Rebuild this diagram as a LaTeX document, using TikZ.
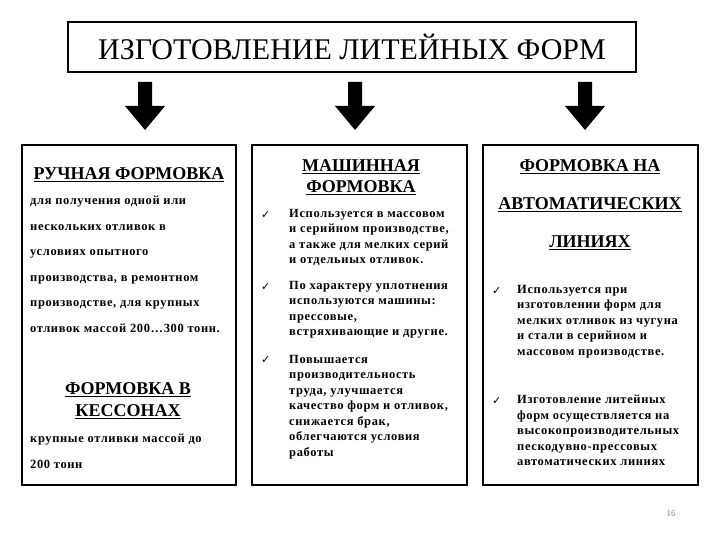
\documentclass[tikz,border=0pt]{standalone}
\usepackage{fontspec}
\setmainfont{Liberation Serif}
\newfontfamily\djv{DejaVu Sans}
\newfontfamily\bodyf[LetterSpace=5,BoldFont={Liberation Serif Bold}]{Liberation Serif}
\begin{document}
\begin{tikzpicture}[x=1pt,y=-1pt,
  box/.style={draw,line width=1.6pt},
  hd/.style={font=\bfseries\fontsize{18}{21}\selectfont,align=center},
  bd/.style={font=\bodyf\bfseries\fontsize{12.5}{15.5}\selectfont,align=left,anchor=north west,inner sep=0pt},
  ck/.style={font=\djv\fontsize{11}{11}\selectfont,anchor=north west,inner sep=0pt},
  arr/.style={fill=black}]
\useasboundingbox (0,0) rectangle (720,540);
\node[box,minimum width=568,minimum height=50,font=\fontsize{30}{32}\selectfont] (title) at (352,47) {ИЗГОТОВЛЕНИЕ ЛИТЕЙНЫХ ФОРМ};
\foreach \n/\x in {a1/145,a2/355,a3/585}{
 \fill[arr] (\x-7,82) -- (\x+7,82) -- (\x+7,106) -- (\x+20,106) -- (\x,130) -- (\x-20,106) -- (\x-7,106) -- cycle;
 \coordinate (\n) at (\x,106);}
\draw[box] (22,145) rectangle (236,485) node[pos=0,inner sep=0] (b1) {};
\draw[box] (252,145) rectangle (467,485) node[pos=0,inner sep=0] (b2) {};
\draw[box] (483,145) rectangle (698,485) node[pos=0,inner sep=0] (b3) {};
% box 1
\node[hd] (h1) at (129,175) {\underline{РУЧНАЯ ФОРМОВКА}};
\node[bd,font=\bodyf\bfseries\fontsize{12.5}{25.5}\selectfont] (t1) at (30,196) {для получения одной или\\нескольких отливок в\\условиях опытного\\производства, в ремонтном\\производстве, для крупных\\отливок массой 200…300 тонн.};
\node[hd,font=\bfseries\fontsize{18}{22}\selectfont] (h2) at (128,401) {\underline{ФОРМОВКА В}\\\underline{КЕССОНАХ}};
\node[bd,font=\bodyf\bfseries\fontsize{12.5}{25.5}\selectfont] (t2) at (30,434) {крупные отливки массой до\\200 тонн};
% box 2
\node[hd] (h3) at (361,177) {\underline{МАШИННАЯ}\\\underline{ФОРМОВКА}};
\node[ck] (c1) at (261,211) {✓};
\node[bd] (p1) at (289,209) {Используется в массовом\\и серийном производстве,\\а также для мелких серий\\и отдельных отливок.};
\node[ck] (c2) at (261,283) {✓};
\node[bd] (p2) at (289,281) {По характеру уплотнения\\используются машины:\\прессовые,\\встряхивающие и другие.};
\node[ck] (c3) at (261,356) {✓};
\node[bd] (p3) at (289,355) {Повышается\\производительность\\труда, улучшается\\качество форм и отливок,\\снижается брак,\\облегчаются условия\\работы};
% box 3
\node[hd,font=\bfseries\fontsize{18}{38}\selectfont] (h4) at (590,205) {\underline{ФОРМОВКА  НА}\\\underline{АВТОМАТИЧЕСКИХ}\\\underline{ЛИНИЯХ}};
\node[ck] (c4) at (492,287) {✓};
\node[bd] (p4) at (517,285) {Используется при\\изготовлении форм для\\мелких отливок из чугуна\\и стали в серийном и\\массовом производстве.};
\node[ck] (c5) at (492,397) {✓};
\node[bd] (p5) at (517,395) {Изготовление литейных\\форм осуществляется на\\высокопроизводительных\\пескодувно-прессовых\\автоматических линиях};
\node[font=\fontsize{9}{9}\selectfont,text=gray] (pg) at (671,514) {16};
\end{tikzpicture}
\end{document}
